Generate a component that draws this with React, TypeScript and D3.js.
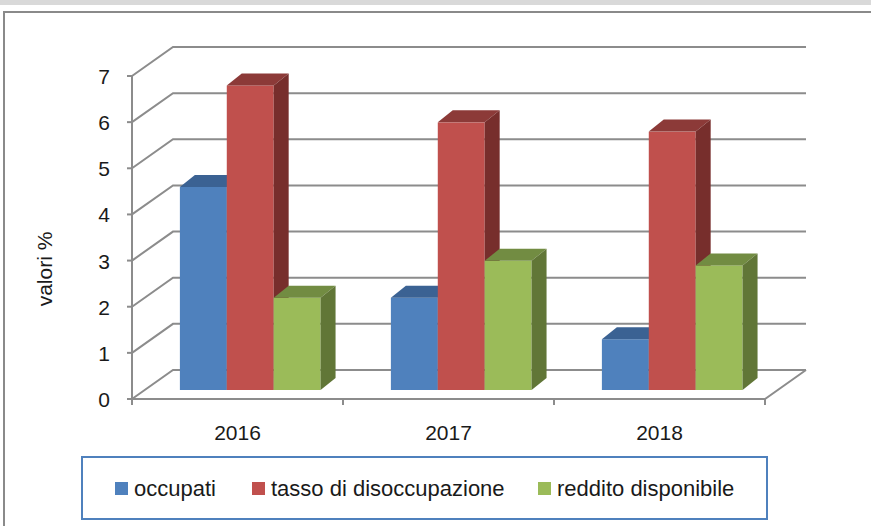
import React, { useEffect, useRef } from 'react';
import * as d3 from 'd3';

const W = 871;
const H = 526;

const years = ['2016', '2017', '2018'];
const seriesNames = ['occupati', 'tasso di disoccupazione', 'reddito disponibile'];
const occupati = [4.4, 2.0, 1.1];
const disoccupazione = [6.6, 5.8, 5.6];
const reddito = [2.0, 2.8, 2.7];
const yTicks = [0, 1, 2, 3, 4, 5, 6, 7];

// front, top, side colours per series
const colors = [
  ['#4f81bd', '#3b6293', '#2f5180'],
  ['#c0504d', '#8c3a38', '#772e2c'],
  ['#9bbb59', '#728c42', '#617637'],
];

const FONT = '"Liberation Sans", Arial, sans-serif';

export default function App() {
  const svgRef = useRef<SVGSVGElement>(null);

  useEffect(() => {
    if (!svgRef.current) return;
    svgRef.current.innerHTML = '';
    const svg = d3.select(svgRef.current);

    const values = [occupati, disoccupazione, reddito];

    // geometry of the oblique 3d box
    const wallDx = 41;
    const wallDy = -29;
    const barPlane = 9 / 29; // bars sit this far into the floor
    const barDx = 15;
    const barDy = -12;

    const x = d3.scaleBand().domain(years).range([132, 765]).paddingInner(0).paddingOuter(0);
    const xs = d3.scaleBand().domain(seriesNames).range([0, x.bandwidth()]).paddingInner(0).paddingOuter(0.75);
    const y = d3.scaleLinear().domain([0, 7]).range([399, 76]);

    const gridColor = '#8c8c8c';

    // top band and chart border
    svg.append('rect').attr('x', 0).attr('y', 0).attr('width', W).attr('height', 5).attr('fill', '#d9d9d9');
    svg.append('path')
      .attr('d', `M4,${H} L4,12 L${W},12`)
      .attr('fill', 'none')
      .attr('stroke', '#8a8a8a')
      .attr('stroke-width', 2);

    const [x0, x1] = x.range();

    // gridlines: side wall + back wall
    const grid = svg.append('g').attr('fill', 'none').attr('stroke', gridColor).attr('stroke-width', 2);
    yTicks.forEach((t) => {
      const yy = y(t);
      grid.append('path')
        .attr('d', `M${x0},${yy} L${x0 + wallDx},${yy + wallDy} L${x1 + wallDx},${yy + wallDy}`);
    });

    // floor
    grid.append('path')
      .attr('d', `M${x0},${y(0)} L${x1},${y(0)} L${x1 + wallDx},${y(0) + wallDy}`);

    // value axis
    grid.append('line').attr('x1', x0).attr('x2', x0).attr('y1', y(7)).attr('y2', y(0) + 1);
    yTicks.forEach((t) => {
      grid.append('line').attr('x1', x0 - 5).attr('x2', x0).attr('y1', y(t)).attr('y2', y(t));
    });
    // category ticks
    [...years.map((d) => x(d)), x1].forEach((xx) => {
      grid.append('line').attr('x1', xx).attr('x2', xx).attr('y1', y(0)).attr('y2', y(0) + 6);
    });

    // bars
    const offX = wallDx * barPlane;
    const offY = wallDy * barPlane;
    const bars = svg.append('g');
    years.forEach((yr, i) => {
      seriesNames.forEach((s, j) => {
        const v = values[j][i];
        const bx = x(yr) + xs(s) + offX;
        const bw = xs.bandwidth();
        const top = y(v) + offY;
        const base = y(0) + offY;
        const [cf, ct, cs] = colors[j];
        bars.append('rect')
          .attr('x', bx).attr('y', top).attr('width', bw).attr('height', base - top)
          .attr('fill', cf);
        bars.append('path')
          .attr('d', `M${bx},${top} L${bx + barDx},${top + barDy} L${bx + bw + barDx},${top + barDy} L${bx + bw},${top} Z`)
          .attr('fill', ct);
        bars.append('path')
          .attr('d', `M${bx + bw},${top} L${bx + bw + barDx},${top + barDy} L${bx + bw + barDx},${base + barDy} L${bx + bw},${base} Z`)
          .attr('fill', cs);
      });
    });

    // tick labels
    const labels = svg.append('g').attr('font-family', FONT).attr('fill', '#1a1a1a');
    yTicks.forEach((t) => {
      labels.append('text')
        .attr('x', 110).attr('y', y(t) + 8)
        .attr('text-anchor', 'end')
        .attr('font-size', 21)
        .text(t);
    });
    years.forEach((yr) => {
      labels.append('text')
        .attr('x', x(yr) + x.bandwidth() / 2).attr('y', 440)
        .attr('text-anchor', 'middle')
        .attr('font-size', 21)
        .text(yr);
    });
    labels.append('text')
      .attr('transform', 'translate(52,269) rotate(-90)')
      .attr('text-anchor', 'middle')
      .attr('font-size', 21)
      .text('valori %');

    // legend
    const legend = svg.append('g').attr('font-family', FONT);
    legend.append('rect')
      .attr('x', 82).attr('y', 457).attr('width', 685).attr('height', 62)
      .attr('fill', 'white').attr('stroke', '#4f81bd').attr('stroke-width', 2);
    const legendX = [115, 252, 538];
    seriesNames.forEach((s, j) => {
      legend.append('rect')
        .attr('x', legendX[j]).attr('y', 482).attr('width', 13).attr('height', 13)
        .attr('fill', colors[j][0]);
      legend.append('text')
        .attr('x', legendX[j] + 19).attr('y', 496)
        .attr('font-size', 22)
        .attr('fill', '#1a1a1a')
        .text(s);
    });
  }, []);

  return (
    <svg
      ref={svgRef}
      width={W}
      height={H}
      style={{ position: 'absolute', left: 0, top: 0, background: 'white' }}
    />
  );
}
